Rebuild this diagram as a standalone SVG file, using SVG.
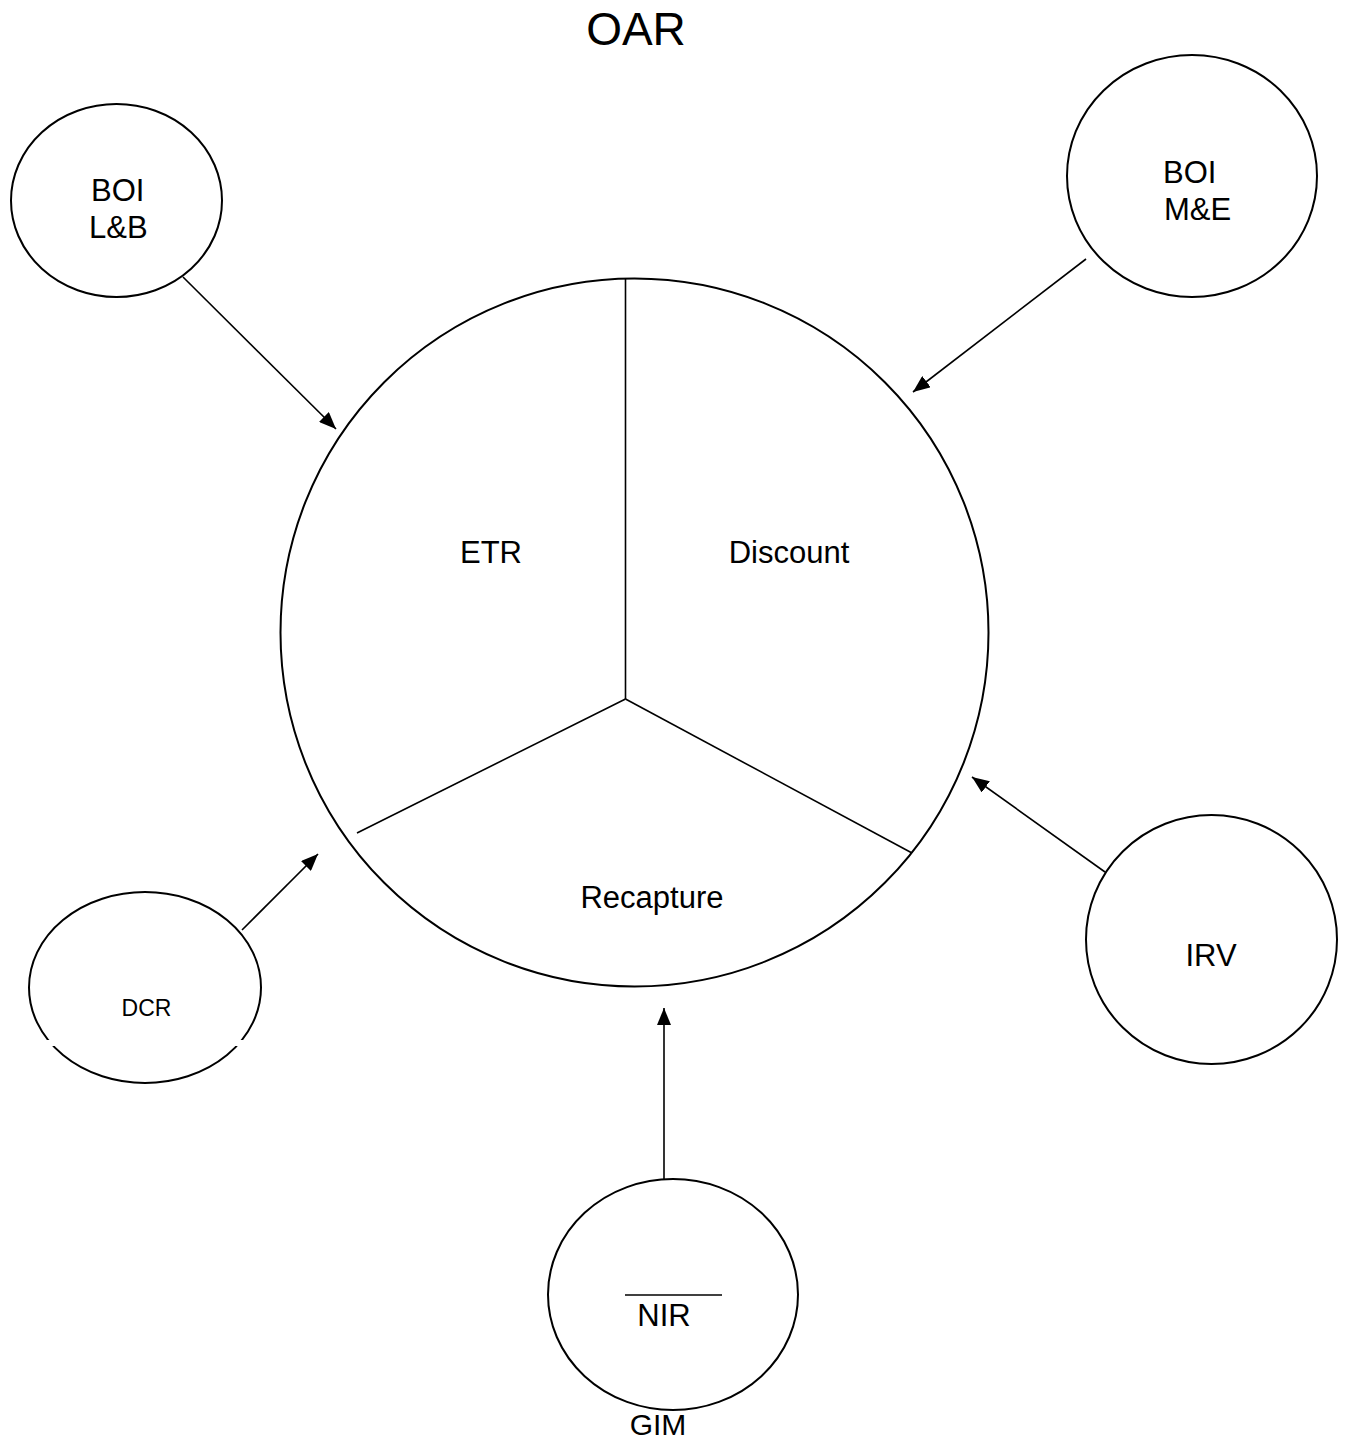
<svg xmlns="http://www.w3.org/2000/svg" width="1348" height="1441" viewBox="0 0 1348 1441">
<style>
.shape{fill:#fff;stroke:#000;stroke-width:2}
.div{stroke:#000;stroke-width:1.6;fill:none}
.conn{stroke:#000;stroke-width:1.6;fill:none;marker-end:url(#arr)}
text{font-family:"Liberation Sans",Arial,sans-serif;fill:#000}
.lbl{font-size:31px}
.mid{text-anchor:middle}
</style>
<defs>
<marker id="arr" markerUnits="userSpaceOnUse" markerWidth="18" markerHeight="14" refX="17" refY="7" orient="auto">
<path d="M0,0 L17,7 L0,14 z" fill="#000"/>
</marker>
</defs>
<rect width="1348" height="1441" fill="#fff"/>
<text x="636" y="45" class="mid" font-size="46">OAR</text>

<g id="connectors">
<line class="conn" x1="183" y1="277" x2="336" y2="429"/>
<line class="conn" x1="1086" y1="259" x2="913" y2="392"/>
<line class="conn" x1="1105" y1="872" x2="972" y2="777"/>
<line class="conn" x1="242" y1="930" x2="318" y2="854"/>
<line class="conn" x1="664" y1="1179" x2="664" y2="1008"/>
</g>

<g id="oar-pie">
<circle class="shape" cx="634.5" cy="632.5" r="354"/>
<polyline class="div" points="625.5,278 625.5,699"/>
<line class="div" x1="625.5" y1="699" x2="357" y2="833"/>
<line class="div" x1="625.5" y1="699" x2="912" y2="853"/>
<text x="491" y="563" class="lbl mid">ETR</text>
<text x="789" y="563" class="lbl mid">Discount</text>
<text x="652" y="908" class="lbl mid">Recapture</text>
</g>

<g id="boi-lb">
<ellipse class="shape" cx="116.5" cy="200.5" rx="105.5" ry="96.5"/>
<text x="91" y="201" class="lbl">BOI</text>
<text x="89" y="238" class="lbl">L&amp;B</text>
</g>

<g id="boi-me">
<ellipse class="shape" cx="1192" cy="176" rx="125" ry="121"/>
<text x="1163" y="183" class="lbl">BOI</text>
<text x="1164" y="220" class="lbl">M&amp;E</text>
</g>

<g id="irv">
<ellipse class="shape" cx="1211.5" cy="939.5" rx="125.5" ry="124.5"/>
<text x="1211" y="966" class="lbl mid">IRV</text>
</g>

<g id="dcr">
<ellipse class="shape" cx="145" cy="987.5" rx="116" ry="95.5"/>
<rect x="35" y="1040" width="220" height="6" fill="#fff"/>
<text x="146.5" y="1016" class="mid" font-size="23">DCR</text>
</g>

<g id="gim">
<ellipse class="shape" cx="673" cy="1294.5" rx="125" ry="115.5"/>
<line x1="625" y1="1295" x2="722" y2="1295" stroke="#000" stroke-width="1.6"/>
<text x="664" y="1326" class="lbl mid">NIR</text>
<text x="658" y="1435" class="mid" font-size="30">GIM</text>
</g>
</svg>
